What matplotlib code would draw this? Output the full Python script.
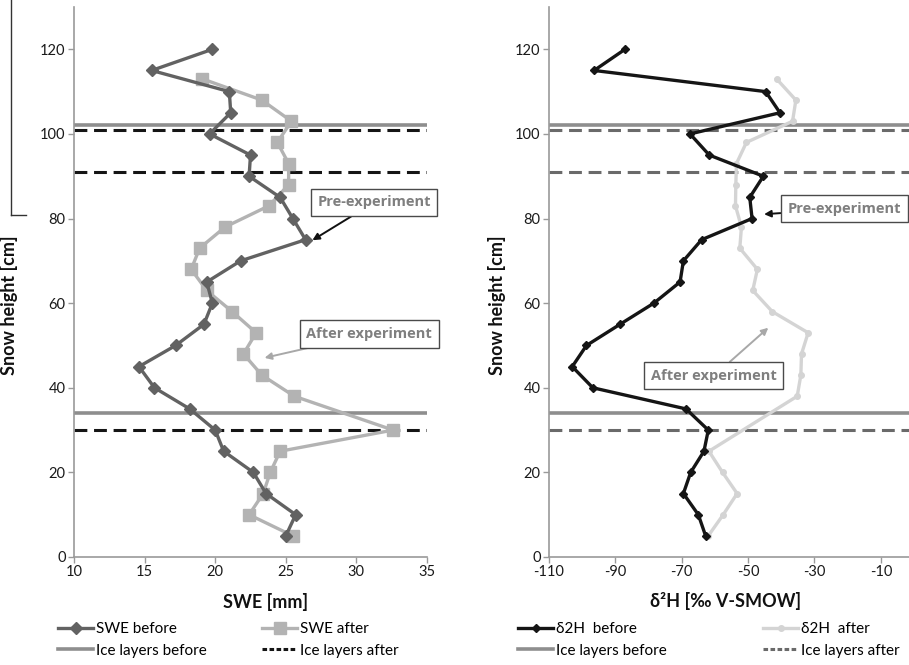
import matplotlib
matplotlib.use("Agg")
import matplotlib.pyplot as plt
from matplotlib.lines import Line2D

plt.rcParams['font.family'] = ['Lato', 'DejaVu Sans']
plt.rcParams['axes.unicode_minus'] = False

# ---- data ----
heights_before = [120, 115, 110, 105, 100, 95, 90, 85, 80, 75, 70, 65,
                  60, 55, 50, 45, 40, 35, 30, 25, 20, 15, 10, 5]
swe_before = [19.8, 15.5, 21.0, 21.1, 19.6, 22.5, 22.4, 24.6, 25.5, 26.4, 21.8, 19.4,
              19.8, 19.2, 17.2, 14.6, 15.7, 18.2, 20.0, 20.6, 22.7, 23.6, 25.7, 25.0]

heights_swe_after = [113, 108, 103, 98, 93, 88, 83, 78, 73, 68, 63,
                     58, 53, 48, 43, 38, 30, 25, 20, 15, 10, 5]
swe_after = [19.1, 23.3, 25.4, 24.4, 25.2, 25.2, 23.8, 20.7, 18.9, 18.3, 19.4,
             21.2, 22.9, 22.0, 23.3, 25.6, 32.6, 24.6, 23.9, 23.4, 22.4, 25.5]

d2h_before = [-87.1, -96.4, -44.7, -40.4, -67.5, -61.7, -45.4, -49.5, -48.8, -64.0, -69.5, -70.5,
              -78.4, -88.6, -98.7, -103.0, -96.8, -68.7, -62.0, -63.3, -67.3, -69.5, -65.0, -62.8]

heights_d2h_after = [113, 108, 103, 98, 93, 88, 83, 78, 73, 68, 63,
                     58, 53, 48, 43, 38, 25, 20, 15, 10, 5]
d2h_after = [-41.4, -35.6, -36.6, -50.5, -53.5, -53.7, -53.8, -52.0, -52.5, -47.2, -48.6,
             -42.7, -31.9, -33.9, -34.1, -35.2, -61.8, -57.7, -53.3, -57.5, -62.0]

ice_layers_before = [102, 34]
ice_layers_after = [101, 91, 30]

swe_ticks = [10, 15, 20, 25, 30, 35]
d2h_ticks = [-110, -90, -70, -50, -30, -10]
height_ticks = [0, 20, 40, 60, 80, 100, 120]

# ---- styling ----
C_SWE_B = '#626262'
C_SWE_A = '#b3b3b3'
C_D2H_B = '#151515'
C_D2H_A = '#d4d4d4'
C_ICE_B = '#8e8e8e'
C_ICE_A_L = '#151515'
C_ICE_A_R = '#6a6a6a'
C_AXIS = '#9a9a9a'
C_NOTE = '#7f7f7f'
DASH = (0, (4.2, 2.2))

W, H = 909, 665
fig = plt.figure(figsize=(W / 100, H / 100), dpi=100)


def px_rect(x0, x1, y_top, y_bot):
    return [x0 / W, 1 - y_bot / H, (x1 - x0) / W, (y_bot - y_top) / H]


ax1 = fig.add_axes(px_rect(74, 427, 7, 557))
ax2 = fig.add_axes(px_rect(549, 914, 7, 557))

for ax in (ax1, ax2):
    ax.set_ylim(0, 130)
    ax.set_yticks(height_ticks)
    for s in ('top', 'right'):
        ax.spines[s].set_visible(False)
    for s in ('left', 'bottom'):
        ax.spines[s].set_color(C_AXIS)
        ax.spines[s].set_linewidth(1.2)
    ax.tick_params(axis='both', colors=C_AXIS, length=4, width=1.0,
                   labelcolor='#1a1a1a', labelsize=10.5, pad=2)
    ax.set_ylabel('Snow height [cm]', fontsize=13, fontweight='bold', color='#111111')

# left panel: snow water equivalent
ax1.set_xlim(10, 35)
ax1.set_xticks(swe_ticks)
for h in ice_layers_before:
    ax1.axhline(h, color=C_ICE_B, lw=2.6, zorder=1)
for h in ice_layers_after:
    ax1.axhline(h, color=C_ICE_A_L, lw=2.2, ls=DASH, zorder=1)
l_swe_a, = ax1.plot(swe_after, heights_swe_after, color=C_SWE_A, lw=2.4,
                    marker='s', ms=8, mec=C_SWE_A, mfc=C_SWE_A, zorder=3)
l_swe_b, = ax1.plot(swe_before, heights_before, color=C_SWE_B, lw=2.4,
                    marker='D', ms=6.5, mec=C_SWE_B, mfc=C_SWE_B, zorder=4)
ax1.set_xlabel('SWE [mm]', fontsize=13, fontweight='bold', color='#111111')
ax1.xaxis.set_label_coords(0.544, -0.066)
ax1.yaxis.set_label_coords(-0.158, 0.458)

# right panel: deuterium
ax2.set_xlim(-110, 0)
ax2.set_xticks(d2h_ticks)
for h in ice_layers_before:
    ax2.axhline(h, color=C_ICE_B, lw=2.6, zorder=1)
for h in ice_layers_after:
    ax2.axhline(h, color=C_ICE_A_R, lw=2.2, ls=DASH, zorder=1)
l_d2h_a, = ax2.plot(d2h_after, heights_d2h_after, color=C_D2H_A, lw=2.4,
                    marker='o', ms=4, mec=C_D2H_A, mfc=C_D2H_A, zorder=3)
l_d2h_b, = ax2.plot(d2h_before, heights_before, color=C_D2H_B, lw=2.4,
                    marker='D', ms=4, mec=C_D2H_B, mfc=C_D2H_B, zorder=4)
ax2.set_xlabel('δ²H [‰ V-SMOW]', fontsize=13, fontweight='bold', color='#111111')
ax2.xaxis.set_label_coords(0.485, -0.064)
ax2.yaxis.set_label_coords(-0.118, 0.458)

# callout boxes
note_kw = dict(fontsize=10.5, fontweight='bold', color=C_NOTE, family=['Open Sans', 'DejaVu Sans'],
               ha='center', va='center', zorder=6, annotation_clip=False,
               bbox=dict(boxstyle='square,pad=0.45', fc='white', ec='#4a4a4a', lw=1.0))


def arrow(color):
    return dict(arrowstyle='-|>', color=color, lw=1.4, mutation_scale=10, shrinkA=0, shrinkB=1)


ax1.annotate('Pre-experiment', xy=(26.8, 74.7), xytext=(31.25, 83.8),
             arrowprops=arrow('#111111'), **note_kw)
ax1.annotate('After experiment', xy=(23.4, 47.0), xytext=(30.9, 52.7),
             arrowprops=arrow('#a8a8a8'), **note_kw)
ax2.annotate('Pre-experiment', xy=(-45.6, 81.0), xytext=(-21.0, 82.3),
             arrowprops=arrow('#111111'), **note_kw)
ax2.annotate('After experiment', xy=(-43.6, 54.4), xytext=(-60.3, 42.8),
             arrowprops=arrow('#a8a8a8'), **note_kw)

# legends, one column each
ice_b = Line2D([], [], color=C_ICE_B, lw=2.6)
ice_a_l = Line2D([], [], color=C_ICE_A_L, lw=2.2, ls=(0, (1.5, 0.8)))
ice_a_r = Line2D([], [], color=C_ICE_A_R, lw=2.2, ls=(0, (1.5, 0.8)))

leg_kw = dict(loc='upper left', frameon=False, fontsize=11, handlelength=2.3,
              handletextpad=0.2, borderpad=0, borderaxespad=0, labelspacing=0.5)

columns = [
    ([l_swe_b, ice_b], ['SWE before', 'Ice layers before'], 58),
    ([l_swe_a, ice_a_l], ['SWE after', 'Ice layers after'], 262),
    ([l_d2h_b, ice_b], ['δ2H  before', 'Ice layers before'], 518),
    ([l_d2h_a, ice_a_r], ['δ2H  after', 'Ice layers after'], 763),
]
for hs, ls, x in columns:
    fig.legend(hs, ls, bbox_to_anchor=(x / W, 1 - 622 / H), **leg_kw)

# thin rule along the left margin
fig.add_artist(Line2D([11 / W, 11 / W], [1.0, 1 - 215 / H], color='#333333', lw=1.0))
fig.add_artist(Line2D([11 / W, 26 / W], [1 - 215 / H, 1 - 215 / H], color='#333333', lw=1.0))

fig.savefig('out.png', dpi=100)
